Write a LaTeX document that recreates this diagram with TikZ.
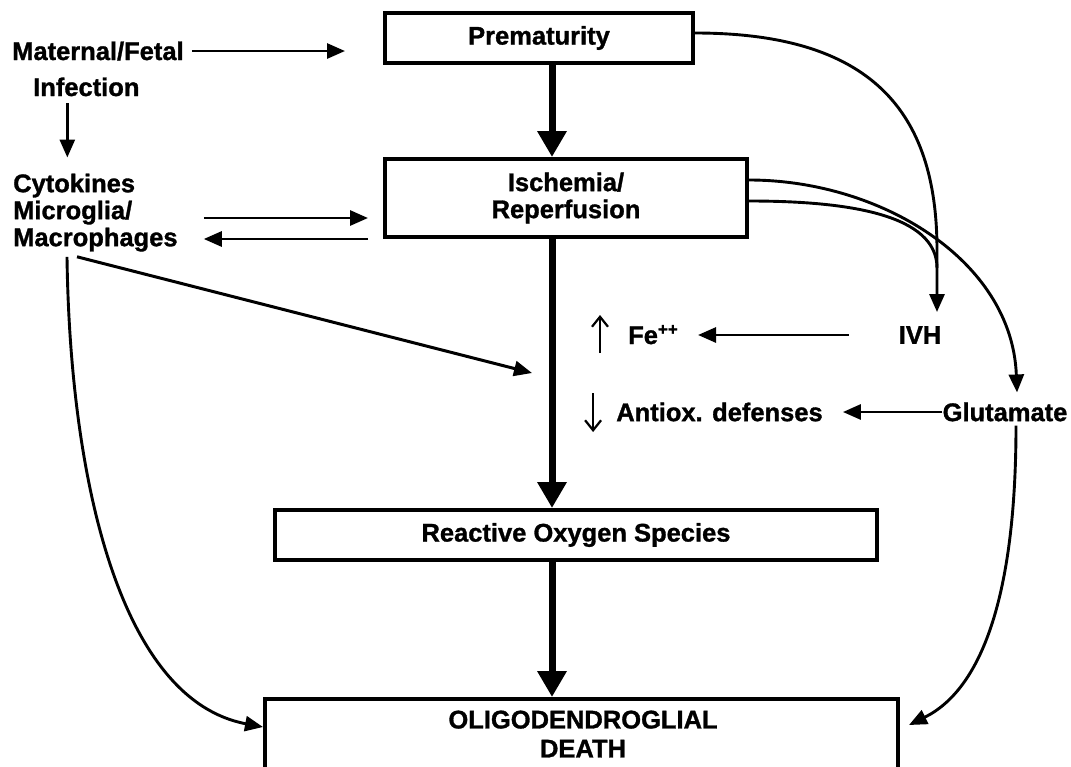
\documentclass[tikz,border=0pt]{standalone}
\usepackage{fontspec}
\setmainfont{Liberation Sans}[BoldFeatures={FakeBold=1.2}]
\usetikzlibrary{arrows.meta}
\begin{document}
\begin{tikzpicture}[x=1pt,y=-1pt,
  lbl/.style={font=\bfseries\fontsize{25.5}{30}\selectfont, inner sep=0pt},
  box/.style={draw, line width=4pt, inner sep=0pt, font=\bfseries\fontsize{25.5}{27}\selectfont},
  tarrow/.style={line width=2.9pt, -{Triangle[length=18pt,width=15pt]}},
  diagarrow/.style={line width=3pt, -{Triangle[length=18pt,width=15pt]}},
  bigarrow/.style={line width=7pt, -{Triangle[length=26pt,width=28pt]}},
  lineonly/.style={line width=2.9pt},
  sarrow/.style={line width=2.2pt, -{Straight Barb[length=10pt,width=16pt]}}
]
\useasboundingbox (0,0) rectangle (1071,766);
\clip (0,0) rectangle (1071,766);
% boxes
\node[box, minimum width=308pt, minimum height=50pt] (prem) at (539,38) {Prematurity};
\node[box, minimum width=362pt, minimum height=78pt, align=center] (isch) at (566,198) {Ischemia/\\Reperfusion};
\node[box, minimum width=602pt, minimum height=50pt] (ros) at (576,535) {Reactive Oxygen Species};
\node[box, minimum width=633pt, minimum height=100pt, anchor=north] (death) at (581.5,697) {};
\node[lbl, align=center, font=\bfseries\fontsize{25.5}{29}\selectfont] (deathtxt) at (583,734) {OLIGODENDROGLIAL\\DEATH};
% labels
\node[lbl, anchor=base west] (mat) at (12,60) {Maternal/Fetal};
\node[lbl, anchor=base west] (inf) at (33,96) {Infection};
\node[lbl, align=left, anchor=north west, font=\bfseries\fontsize{25.5}{27}\selectfont] (cyto) at (13,173.5) {Cytokines\\Microglia/\\Macrophages};
\node[lbl] (ivh) at (920,335) {IVH};
\node[lbl, anchor=base west] (fe) at (628,344) {Fe\raisebox{9pt}{\fontsize{17}{17}\selectfont ++}};
\node[lbl] (anti) at (719.5,412) {Antiox. defenses};
\node[lbl] (glu) at (1005,412) {Glutamate};
% helper coordinates
\coordinate (axis) at (552,0);
\coordinate (c1) at (0,218);
\coordinate (diagend) at (532,373);
% thick main chain
\draw[bigarrow] (prem.south -| axis) -- (isch.north -| axis);
\draw[bigarrow] (isch.south -| axis) -- (ros.north -| axis);
\draw[bigarrow] (ros.south -| axis) -- (death.north -| axis);
% left side
\draw[tarrow, shorten <=8pt, shorten >=38pt] (mat.east) -- (mat.east -| prem.west);
\draw[tarrow, shorten <=7pt, shorten >=16pt] ([xshift=-19pt]inf.south) -- ([xshift=-19pt]inf.south |- cyto.north);
\draw[tarrow, shorten <=26pt, shorten >=15pt] (cyto.east |- c1) -- (isch.west |- c1);
\draw[tarrow, shorten <=15pt, shorten >=26pt] (isch.south west) -- (isch.south west -| cyto.east);
\draw[diagarrow] ([xshift=64pt,yshift=-5pt]cyto.south west) -- (diagend);
\draw[tarrow] ([xshift=54pt,yshift=-5pt]cyto.south west) .. controls (70,480) and (120,700) .. ([yshift=-30pt]death.north west);
% right side
\draw[tarrow] ([yshift=5pt]prem.east) .. controls (870,33) and (937,110) .. (937,250) -- ([xshift=17pt,yshift=14pt]ivh.north);
\draw[lineonly] ([yshift=-3pt]isch.east) .. controls (850,201) and (937,215) .. (937,268);
\draw[tarrow] ([yshift=18pt]isch.east) .. controls (880,180) and (1012,260) .. ([xshift=12pt,yshift=10pt]glu.north);
\draw[tarrow] ([xshift=11pt,yshift=-4pt]glu.south) .. controls (1016,600) and (980,690) .. ([xshift=9pt,yshift=-28pt]death.north east);
\draw[tarrow, shorten <=50pt, shorten >=20pt] (ivh.west) -- (ivh.west -| fe.east);
\draw[tarrow, shorten >=20pt] (glu.west) -- (glu.west -| anti.east);
% up / down marks
\draw[sarrow] ([xshift=-28pt,yshift=-9pt]fe.base west) -- ++(0,-38);
\draw[sarrow] ([xshift=-23pt,yshift=19pt]anti.west) -- ++(0,39);
\end{tikzpicture}
\end{document}
